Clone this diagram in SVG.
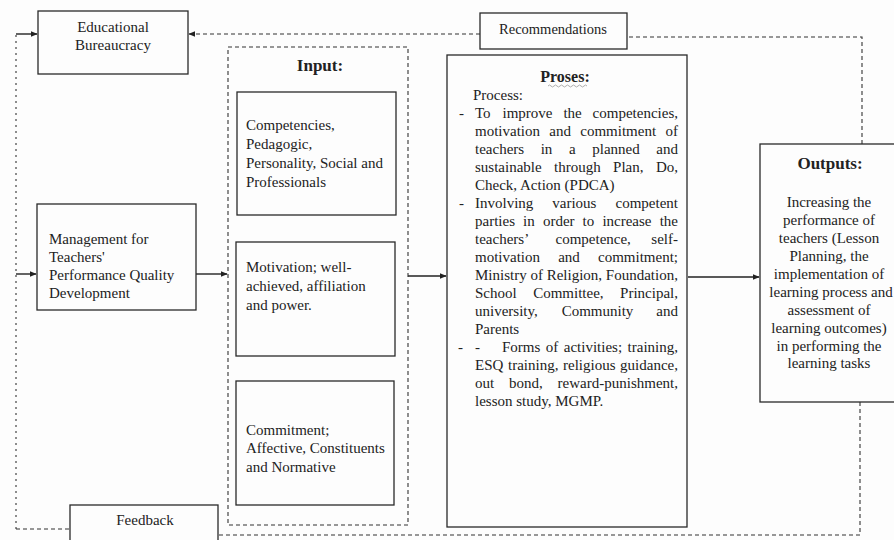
<svg xmlns="http://www.w3.org/2000/svg" width="894" height="540" viewBox="0 0 894 540">
<defs>
<style>
.bg{fill:#fdfdfd}
.box{fill:none;stroke:#2a2a2a;stroke-width:1.3}
.dash{fill:none;stroke:#333;stroke-width:1.1;stroke-dasharray:4 3}
.dot{fill:none;stroke:#444;stroke-width:1.2;stroke-dasharray:2 4}
.line{fill:none;stroke:#222;stroke-width:1.4}
text{font-family:"Liberation Serif","Times New Roman",serif;font-size:15px;fill:#222}
.title{font-weight:bold;font-size:17px;text-anchor:middle}
.c{text-anchor:middle}
.e{text-anchor:end}
</style>
<marker id="ah" viewBox="0 0 10 10" refX="9" refY="5" markerWidth="7" markerHeight="7" markerUnits="userSpaceOnUse" orient="auto">
<path d="M0,1 L10,5 L0,9 z" fill="#222"/>
</marker>
</defs>
<rect class="bg" x="0" y="0" width="894" height="540"/>

<g id="connectors">
<!-- left dotted feedback loop -->
<path class="dot" d="M16,529 V34"/>
<path class="line" d="M16,34 H37" marker-end="url(#ah)"/>
<path class="line" d="M16,274 H36" marker-end="url(#ah)"/>
<path class="dash" d="M16,529 H70"/>
<!-- bottom dashed line from outputs to feedback -->
<path class="dash" d="M860,402 V535 H218"/>
<!-- recommendations to outputs / bureaucracy -->
<path class="dash" d="M862,144 V37 H627"/>
<path class="dash" d="M480,34 H189" marker-end="url(#ah)"/>
<!-- main flow -->
<path class="line" d="M196,274 H227" marker-end="url(#ah)"/>
<path class="line" d="M408,276 H446" marker-end="url(#ah)"/>
<path class="line" d="M688,277 H759" marker-end="url(#ah)"/>
</g>

<g id="educational-bureaucracy">
<rect class="box" x="38" y="11" width="150" height="63"/>
<text class="c" x="113" y="32">Educational</text>
<text class="c" x="113" y="50">Bureaucracy</text>
</g>

<g id="recommendations">
<rect class="box" x="480" y="13" width="147" height="36"/>
<text class="c" x="553" y="34" style="font-size:14.5px">Recommendations</text>
</g>

<g id="management">
<rect class="box" x="37" y="204" width="159" height="106"/>
<text x="49" y="244">Management for</text>
<text x="49" y="262">Teachers'</text>
<text x="49" y="280">Performance Quality</text>
<text x="49" y="298">Development</text>
</g>

<g id="feedback">
<rect class="box" x="70" y="505" width="148" height="45"/>
<text class="c" x="145" y="525">Feedback</text>
</g>

<g id="input">
<rect class="dash" x="228" y="47" width="180" height="478"/>
<text class="title" x="320" y="71">Input:</text>
<g id="input-competencies">
<rect class="box" x="237" y="92" width="159" height="123"/>
<text x="246" y="130">Competencies,</text>
<text x="246" y="149">Pedagogic,</text>
<text x="246" y="168">Personality, Social and</text>
<text x="246" y="187">Professionals</text>
</g>
<g id="input-motivation">
<rect class="box" x="236" y="242" width="159" height="114"/>
<text x="246" y="272">Motivation; well-</text>
<text x="246" y="291">achieved, affiliation</text>
<text x="246" y="310">and power.</text>
</g>
<g id="input-commitment">
<rect class="box" x="236" y="381" width="158" height="124"/>
<text x="246" y="435">Commitment;</text>
<text x="246" y="453">Affective, Constituents</text>
<text x="246" y="472">and Normative</text>
</g>
</g>

<g id="proses">
<rect class="box" x="447" y="55" width="240" height="472"/>
<text class="title" x="565" y="82" style="font-size:16px">Proses:</text>
<path d="M548,86 q1.5,-2 3,0 t3,0 t3,0 t3,0 t3,0 t3,0 t3,0 t3,0 t3,0 t3,0 t3,0 t3,0 t3,0" fill="none" stroke="#999" stroke-width="0.8"/>
<text x="473" y="100">Process:</text>
<text x="459" y="118">-</text>
<text y="118"><tspan x="475">To</tspan><tspan x="502.5">improve</tspan><tspan x="563.4">the</tspan></text><text class="e" x="678" y="118">competencies,</text>
<text y="136"><tspan x="475">motivation</tspan><tspan x="549.3">and</tspan><tspan x="580.3">commitment</tspan></text><text class="e" x="678" y="136">of</text>
<text y="154"><tspan x="475">teachers</tspan><tspan x="540.7">in</tspan><tspan x="569">a</tspan><tspan x="592.3">planned</tspan></text><text class="e" x="678" y="154">and</text>
<text y="172"><tspan x="475">sustainable</tspan><tspan x="554">through</tspan><tspan x="613.1">Plan,</tspan></text><text class="e" x="678" y="172">Do,</text>
<text x="475" y="190">Check, Action (PDCA)</text>
<text x="459" y="208">-</text>
<text y="208"><tspan x="475">Involving</tspan><tspan x="552.3">various</tspan></text><text class="e" x="678" y="208">competent</text>
<text y="226"><tspan x="475">parties</tspan><tspan x="523.1">in</tspan><tspan x="542.9">order</tspan><tspan x="582.6">to</tspan><tspan x="602.4">increase</tspan></text><text class="e" x="678" y="226">the</text>
<text y="244"><tspan x="475">teachers’</tspan><tspan x="555.5">competence,</tspan></text><text class="e" x="678" y="244">self-</text>
<text y="262"><tspan x="475">motivation</tspan><tspan x="558.2">and</tspan></text><text class="e" x="678" y="262">commitment;</text>
<text x="475" y="280">Ministry of Religion, Foundation,</text>
<text y="298"><tspan x="475">School</tspan><tspan x="533.2">Committee,</tspan></text><text class="e" x="678" y="298">Principal,</text>
<text y="316"><tspan x="475">university,</tspan><tspan x="561.7">Community</tspan></text><text class="e" x="678" y="316">and</text>
<text x="475" y="334">Parents</text>
<text x="458" y="352">-</text>
<text y="352"><tspan x="475">-</tspan><tspan x="502">Forms</tspan><tspan x="545.8">of</tspan><tspan x="563.8">activities;</tspan></text><text class="e" x="678" y="352">training,</text>
<text y="370"><tspan x="475">ESQ</tspan><tspan x="508">training,</tspan><tspan x="563">religious</tspan></text><text class="e" x="678" y="370">guidance,</text>
<text y="388"><tspan x="475">out</tspan><tspan x="509">bond,</tspan></text><text class="e" x="678" y="388">reward-punishment,</text>
<text x="475" y="406">lesson study, MGMP.</text>
</g>

<g id="outputs">
<rect class="box" x="760" y="144" width="150" height="258"/>
<text class="title" x="830" y="169">Outputs:</text>
<text class="c" x="829" y="207">Increasing the</text>
<text class="c" x="829" y="225">performance of</text>
<text class="c" x="829" y="243">teachers (Lesson</text>
<text class="c" x="829" y="261">Planning, the</text>
<text class="c" x="829" y="279">implementation of</text>
<text class="c" x="831" y="297">learning process and</text>
<text class="c" x="829" y="315">assessment of</text>
<text class="c" x="829" y="333">learning outcomes)</text>
<text class="c" x="829" y="351">in performing the</text>
<text class="c" x="829" y="368">learning tasks</text>
</g>
</svg>
